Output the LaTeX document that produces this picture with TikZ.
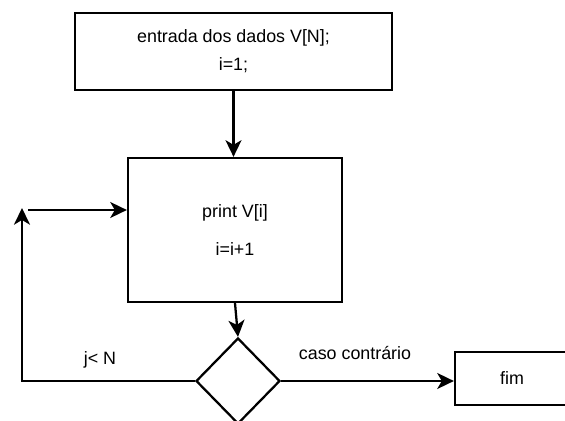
\documentclass[tikz,border=0pt]{standalone}
\usepackage{fontspec}
\setmainfont{Liberation Sans}
\usetikzlibrary{calc,shapes.geometric,arrows.meta}
\tikzset{
  caixa/.style={draw,line width=1.7pt,inner sep=0pt,align=center},
  decisao/.style={draw,diamond,line width=1.7pt,inner sep=0pt,minimum width=63pt,minimum height=64.5pt},
  seta/.style={line width=1.7pt,-{Stealth[length=12.5pt,width=12pt,inset=3.5pt]}},
  linha/.style={line width=1.7pt}
}

\begin{document}
\begin{tikzpicture}[x=0.75pt,y=-0.75pt,font=\fontsize{13.4}{21}\selectfont]
    \useasboundingbox (0,0) rectangle (565,421);
    \clip (0,0) rectangle (565,421); % box and diamond run off the page
    \coordinate (Entrada) at (233.5,51.5);
    \coordinate (Print)   at (235,230);
    \coordinate (Teste)   at (238,381);
    \coordinate (Fim)     at (512,378.5);
    \node[caixa,minimum width=237.75pt,minimum height=57.75pt] (entrada) at (Entrada)
      {entrada dos dados V[N];\\i=1;};
    \node[caixa,minimum width=160.5pt,minimum height=108pt] (print) at (Print)
      {print V[i]\\[7.5pt]i=i+1};
    \node[decisao] (teste) at (Teste) {};
    \node[caixa,minimum width=85.5pt,minimum height=39.75pt] (fim) at (Fim) {fim};
    % ligacoes
    \draw[seta] (entrada.south) -- (entrada.south |- print.north);
    \draw[seta] (print.south) -- (teste.north);
    \coordinate (canto) at (22,381);
    \coordinate (topo)  at (22,208);
    \coordinate (volta) at (28,210);
    \draw[seta] (teste.west) -- (canto) -- (topo);
    \draw[seta] (volta) -- (volta -| print.west);
    \draw[seta] (teste.east) -- (teste.east -| fim.west);
    \node (menor) at (100,360) {j< N};
    \node (senao) at (355,353) {caso contrário};
\end{tikzpicture}
\end{document}
